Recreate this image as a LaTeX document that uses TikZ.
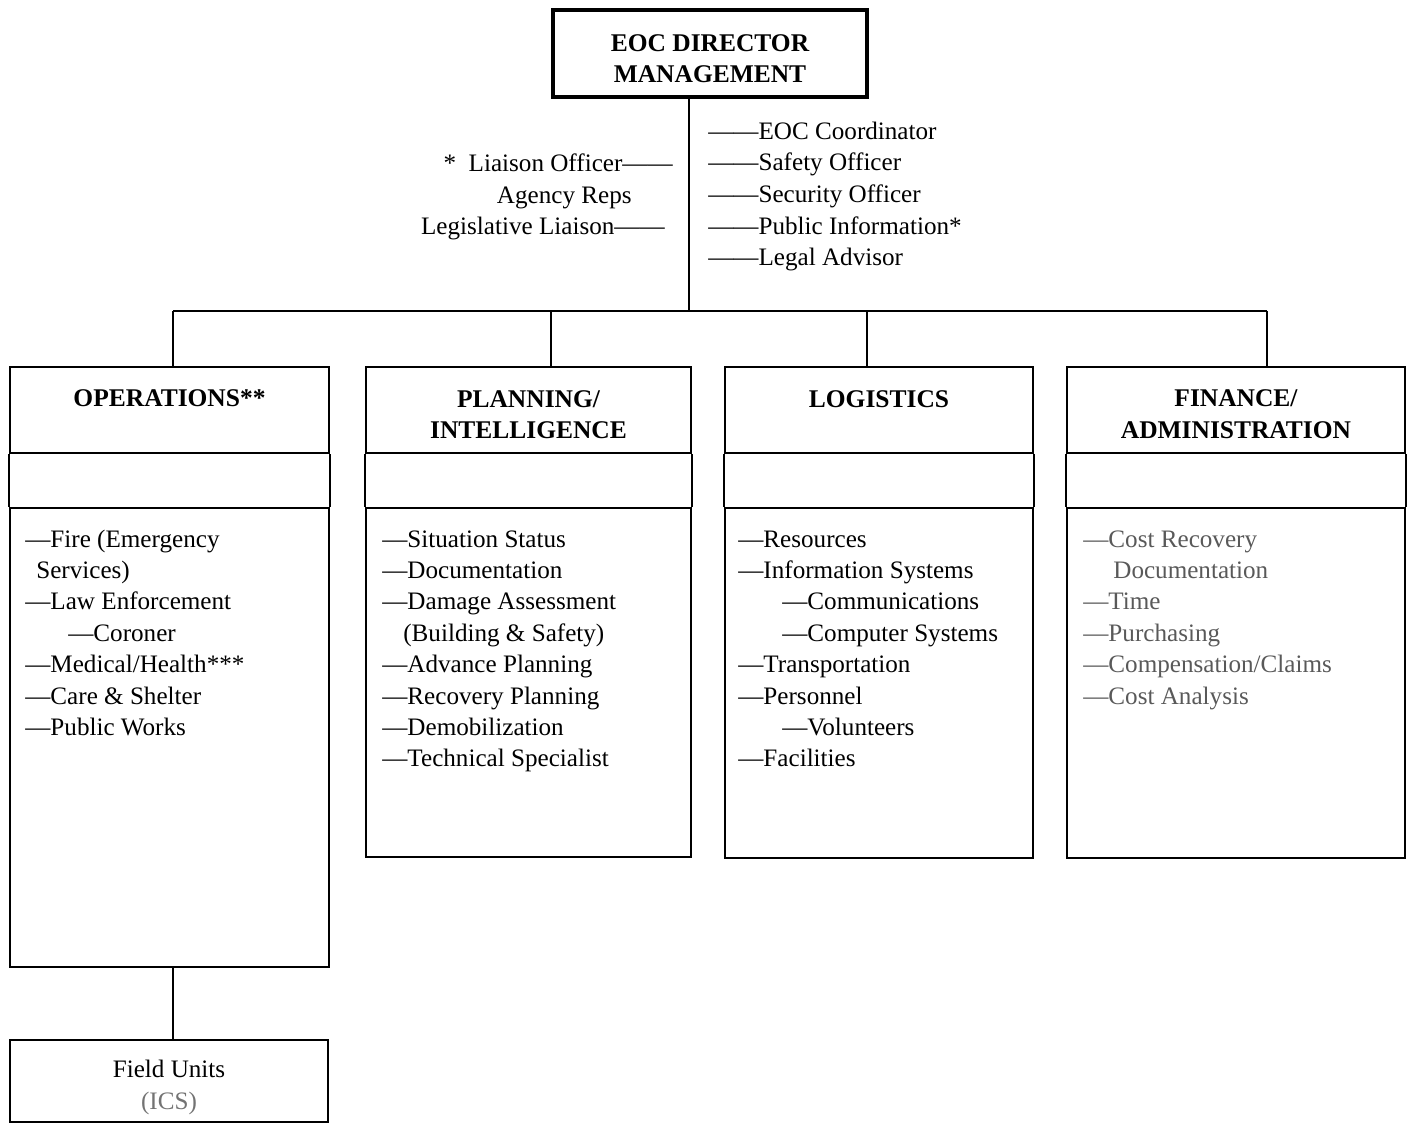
\documentclass[tikz,border=0pt]{standalone}
\usepackage{fontspec}
\setmainfont{Liberation Serif}
\tikzset{
  box/.style={draw,line width=1.3pt,inner sep=0pt},
  htext/.style={align=center,inner sep=0pt,font=\bfseries\fontsize{14.5}{17.9}\selectfont},
  item/.style={anchor=base west,inner sep=0pt,font=\fontsize{14.3}{17}\selectfont},
  link/.style={line width=0.8pt},
  side/.style={line width=1.3pt}
}
\begin{document}
\begin{tikzpicture}[x=0.02cm,y=-0.02cm]
\useasboundingbox (0,0) rectangle (1409,1123);
\node (dir) at (710,53.5) [box,minimum width=6.28cm,minimum height=1.74cm,line width=1.8pt,label={[htext,yshift=-2.8pt]center:EOC DIRECTOR\\MANAGEMENT}] {};
\node (ops) at (169.5,410) [box,minimum width=6.38cm,minimum height=1.72cm,label={[htext,yshift=6.8pt]center:OPERATIONS**}] {};
\node (plan) at (528.5,410) [box,minimum width=6.5cm,minimum height=1.72cm,label={[htext,yshift=-2.6pt]center:PLANNING/\\INTELLIGENCE}] {};
\node (log) at (879,410) [box,minimum width=6.16cm,minimum height=1.72cm,label={[htext,yshift=6.2pt]center:LOGISTICS}] {};
\node (fin) at (1236,410) [box,minimum width=6.76cm,minimum height=1.72cm,label={[htext,yshift=-2.3pt]center:FINANCE/\\ADMINISTRATION}] {};
\node (opsl) at (169.5,737.5) [box,minimum width=6.38cm,minimum height=9.18cm] {};
\node (planl) at (528.5,682.5) [box,minimum width=6.5cm,minimum height=6.98cm] {};
\node (logl) at (879,683) [box,minimum width=6.16cm,minimum height=7cm] {};
\node (finl) at (1236,683) [box,minimum width=6.76cm,minimum height=7cm] {};
\node (field) at (169,1081) [box,minimum width=6.36cm,minimum height=1.64cm,label={[htext,font=\fontsize{14.3}{17.9}\selectfont,yshift=-3.6pt]center:Field Units\\{\color{black!55}(ICS)}}] {};
\coordinate (bus) at (689,311);
\coordinate (b1) at (173,311);
\coordinate (b2) at (551,311);
\coordinate (b3) at (867,311);
\coordinate (b4) at (1267,311);
\draw[link] (dir.south -| bus) -- (bus);
\draw[link] (b1) -- (b4);
\foreach \b/\n in {b1/ops,b2/plan,b3/log,b4/fin}
  \draw[link] (\b) -- (\b |- \n.north);
\foreach \n in {ops,plan,log,fin} {
  \draw[side] (\n.south west) -- (\n l.north west);
  \draw[side] (\n.south east) -- (\n l.north east);
}
\draw[link] (opsl.south -| b1) -- (field.north -| b1);
\node (lo) at (673,171) [item,anchor=base east] {*~~Liaison Officer——};
\node (ar) at (632,203) [item,anchor=base east] {Agency Reps};
\node (ll) at (665,234) [item,anchor=base east] {Legislative Liaison——};
\foreach \txt [count=\i] in {EOC Coordinator,Safety Officer,Security Officer,Public Information*,Legal Advisor}
  \node (r-\i) at ({708},{139+31.7*(\i-1)}) [item] {——\txt};
\foreach \dx/\txt [count=\i] in {0/{—Fire (Emergency},11/{Services)},0/{—Law Enforcement},43/{—Coroner},0/{—Medical/Health***},0/{—Care \& Shelter},0/{—Public Works}}
  \node (ops-\i) at ({25+\dx},{547+31.4*(\i-1)}) [item] {\txt};
\foreach \dx/\txt [count=\i] in {0/{—Situation Status},0/{—Documentation},0/{—Damage Assessment},21/{(Building \& Safety)},0/{—Advance Planning},0/{—Recovery Planning},0/{—Demobilization},0/{—Technical Specialist}}
  \node (plan-\i) at ({382+\dx},{547+31.4*(\i-1)}) [item] {\txt};
\foreach \dx/\txt [count=\i] in {0/{—Resources},0/{—Information Systems},44/{—Communications},44/{—Computer Systems},0/{—Transportation},0/{—Personnel},44/{—Volunteers},0/{—Facilities}}
  \node (log-\i) at ({738+\dx},{547+31.4*(\i-1)}) [item] {\txt};
\foreach \dx/\txt [count=\i] in {0/{—Cost Recovery},30/{Documentation},0/{—Time},0/{—Purchasing},0/{—Compensation/Claims},0/{—Cost Analysis}}
  \node (fin-\i) at ({1083+\dx},{547+31.4*(\i-1)}) [item,text=black!65] {\txt};
\end{tikzpicture}
\end{document}
